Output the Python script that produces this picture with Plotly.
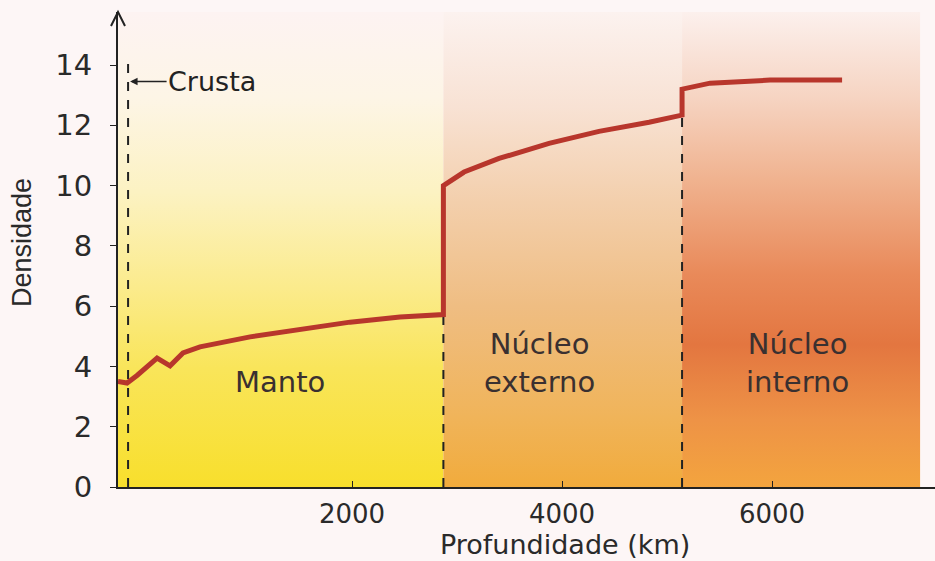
import plotly.graph_objects as go

# ---- data ----
depth_km = [-229, -143, -48, 143, 267, 390, 552, 1029, 1981, 2457, 2870,
            2870, 3067, 3400, 3876, 4352, 4829, 5124, 5143,
            5143, 5410, 5981, 6667]
density = [3.5, 3.45, 3.7, 4.28, 4.02, 4.45, 4.65, 4.98, 5.47, 5.64, 5.72,
           10.0, 10.45, 10.9, 11.4, 11.8, 12.1, 12.34, 12.34,
           13.2, 13.4, 13.5, 13.5]

layer_names = ["Manto", "Núcleo<br>externo", "Núcleo<br>interno"]
layer_bounds = [-229, 2870, 5143, 7410]          # km
layer_label_x = [1314, 3790, 6238]
layer_label_y = [3.5, 4.1, 4.1]
crust_depth = -133
boundary_tops = [14.1, 5.72, 12.34]               # top of dashed markers
boundary_x = [crust_depth, 2870, 5143]

x_ticks = [2000, 4000, 6000]
y_ticks = [0, 2, 4, 6, 8, 10, 12, 14]

XMIN, XMAX = -229, 7552
YMAX = 15.76

FONT = "DejaVu Sans, Liberation Sans, Arial"

layer_scales = [
    [[0, "#f8df2c"], [0.25, "#f9e55a"], [0.42, "#fbeb8c"], [0.62, "#fcf2c2"],
     [0.82, "#fdf5e6"], [1, "#fdf3f2"]],
    [[0, "#f1ab3c"], [0.15, "#f0b45a"], [0.38, "#efbd82"], [0.6, "#f3cfac"],
     [0.8, "#f8e2d4"], [1, "#fcf2ef"]],
    [[0, "#f3a43e"], [0.14, "#ee9346"], [0.3, "#e37640"], [0.45, "#e98a5a"],
     [0.65, "#f0b390"], [0.82, "#f6d4c2"], [1, "#fcf0ed"]],
]

fig = go.Figure()

for i in range(3):
    x0, x1 = layer_bounds[i], layer_bounds[i + 1]
    fig.add_trace(go.Scatter(
        x=[x0, x1, x1, x0, x0], y=[0, 0, YMAX, YMAX, 0],
        mode="lines", line=dict(width=0), fill="toself",
        fillgradient=dict(type="vertical", colorscale=layer_scales[i],
                          start=0, stop=YMAX),
        hoverinfo="skip", showlegend=False))

for bx, bt in zip(boundary_x, boundary_tops):
    fig.add_trace(go.Scatter(
        x=[bx, bx], y=[0, bt], mode="lines",
        line=dict(color="#222222", width=2, dash="dash"),
        hoverinfo="skip", showlegend=False))

fig.add_trace(go.Scatter(
    x=depth_km, y=density, mode="lines",
    line=dict(color="#b8362c", width=5),
    showlegend=False))

for name, lx, ly in zip(layer_names, layer_label_x, layer_label_y):
    fig.add_annotation(x=lx, y=ly, text=name, showarrow=False,
                       font=dict(size=29, color="#3a3030", family=FONT))

fig.add_annotation(x=crust_depth, y=13.45, text="Crusta", showarrow=True,
                   ax=84, ay=0, arrowhead=2, arrowsize=1, arrowwidth=1.5,
                   arrowcolor="#222222", standoff=2,
                   font=dict(size=27, color="#222222", family=FONT))

# axis titles placed as annotations
fig.add_annotation(xref="paper", yref="paper", x=(565 - 118) / 817,
                   y=-(544 - 487) / 475, text="Profundidade (km)",
                   showarrow=False, xanchor="center", yanchor="middle",
                   font=dict(size=27, color="#2a2a2a", family=FONT))
fig.add_annotation(xref="paper", yref="paper", x=(22 - 118) / 817,
                   y=(487 - 243) / 475, text="Densidade", textangle=-90,
                   showarrow=False, xanchor="center", yanchor="middle",
                   font=dict(size=27, color="#2a2a2a",
                             family="Liberation Sans Narrow, Liberation Sans, Arial"))

# open arrowhead at the top of the y axis
fig.add_shape(type="path", xref="paper", yref="paper",
              xsizemode="pixel", ysizemode="pixel",
              xanchor=0, yanchor=1,
              path="M -7,-14 L 0,0 L 7,-14",
              line=dict(color="#222222", width=2), layer="above")

fig.update_layout(
    width=935, height=561,
    margin=dict(l=118, r=0, t=12, b=74, autoexpand=False),
    paper_bgcolor="#fdf6f6", plot_bgcolor="rgba(0,0,0,0)",
    font=dict(family=FONT, color="#2a2a2a"),
    xaxis=dict(range=[XMIN, XMAX], tickvals=x_ticks,
               ticktext=[str(v) for v in x_ticks],
               showgrid=False, zeroline=False, showline=True,
               linecolor="#222222", linewidth=2,
               ticks="inside", ticklen=6, tickcolor="#222222",
               tickfont=dict(size=26), ticklabelstandoff=3,
               automargin=False),
    yaxis=dict(range=[0, YMAX], tickvals=y_ticks,
               showgrid=False, zeroline=False, showline=True,
               linecolor="#222222", linewidth=2,
               ticks="outside", ticklen=6, tickcolor="#222222",
               tickfont=dict(size=29), ticklabelstandoff=12,
               automargin=False),
)

fig.write_html("out.html", config={"displayModeBar": False},
               post_script="document.body.style.margin='0px';"
                           "document.body.style.background='#fdf6f6';")
